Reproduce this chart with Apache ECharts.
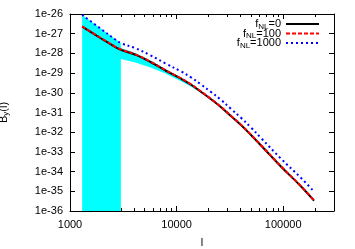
<!DOCTYPE html>
<html><head><meta charset="utf-8">
<script src="https://cdn.jsdelivr.net/npm/echarts@6/dist/echarts.min.js"></script>
<style>html,body{margin:0;padding:0;background:#fff}#c{width:355px;height:249px}</style>
</head><body><div id="c"></div>
<script>
const ell = [1300, 1960, 2660, 3030, 4100, 5690, 7870, 10900, 13600, 16800, 20900, 26000, 32300, 40200, 49900, 62000, 95700, 148000, 195000];
const fnl0 = [2.26e-27, 5.70e-28, 2.11e-28, 1.49e-28, 8.59e-29, 3.66e-29, 1.355e-29, 5.32e-30, 2.64e-30, 1.16e-30, 4.84e-31, 1.905e-31, 6.64e-32, 2.32e-32, 7.21e-33, 2.11e-33, 1.77e-34, 1.71e-35, 3.33e-36];
const fnl100 = [2.35e-27, 5.93e-28, 2.19e-28, 1.55e-28, 8.93e-29, 3.81e-29, 1.41e-29, 5.53e-30, 2.75e-30, 1.21e-30, 5.03e-31, 1.98e-31, 6.91e-32, 2.41e-32, 7.50e-33, 2.19e-33, 1.84e-34, 1.78e-35, 3.46e-36];
const fnl1000 = [9.02e-27, 1.72e-27, 5.07e-28, 3.26e-28, 1.84e-28, 8.0e-29, 3.10e-29, 1.25e-29, 6.18e-30, 2.73e-30, 1.135e-30, 4.47e-31, 1.56e-31, 5.43e-32, 1.73e-32, 5.07e-33, 4.46e-34, 4.61e-35, 9.62e-36];
const bandL = [1300, 3000, 3000, 4100, 5690, 7870, 10900, 13600, 16800, 19000];
const bandLow = [1e-36, 1e-36, 5.2e-29, 3.47e-29, 1.91e-29, 9.55e-30, 3.98e-30, 2.09e-30, 1.0e-30, 7.2e-31];
const bandHigh = [9.02e-27, 3.3e-28, 1.9e-28, 1.06e-28, 4.40e-29, 1.59e-29, 6.11e-30, 2.96e-30, 1.28e-30, 7.6e-31];
const seriesNames = ['fNL=0', 'fNL=100', 'fNL=1000'];
const xMajor = [1000, 10000, 100000];
const xMinor = [2000, 3000, 4000, 5000, 6000, 7000, 8000, 9000, 20000, 30000, 40000, 50000, 60000, 70000, 80000, 90000, 200000, 300000];
const yExponents = [-36, -35, -34, -33, -32, -31, -30, -29, -28, -27, -26];

// ECharts rounds log-axis tick values to 20 decimals, so values are plotted in units of 1e-36
const UNIT_EXP = -36;
const toUnit = v => v * Math.pow(10, -UNIT_EXP);
const yTicks = yExponents.map(e => Math.pow(10, e - UNIT_EXP));

const FONT = 'Liberation Sans';
const chart = echarts.init(document.getElementById('c'), null, {renderer: 'canvas'});
const pair = arr => ell.map((l, i) => [l, toUnit(arr[i])]);
function xAx(pos, ticks, len, showLabel, showLine) {
  return {
    type: 'log', logBase: 10, min: 1000, max: 300000, position: pos, gridIndex: 0,
    axisLine: {show: showLine, onZero: false, lineStyle: {color: '#000', width: 1}},
    axisTick: {show: true, inside: true, length: len, customValues: ticks, lineStyle: {color: '#000'}},
    axisLabel: {show: showLabel, customValues: xMajor, formatter: v => String(Math.round(v)), color: '#000', fontFamily: FONT, fontSize: 11, margin: 8},
    splitLine: {show: false}, minorTick: {show: false}
  };
}
function yAx(pos, showLabel) {
  return {
    type: 'log', logBase: 10, min: yTicks[0], max: yTicks[yTicks.length - 1], position: pos, gridIndex: 0,
    axisLine: {show: true, onZero: false, lineStyle: {color: '#000', width: 1}},
    axisTick: {show: true, inside: true, length: 5, customValues: yTicks, lineStyle: {color: '#000'}},
    axisLabel: {show: showLabel, customValues: yTicks, formatter: v => '1e' + (Math.round(Math.log10(v)) + UNIT_EXP), color: '#000', fontFamily: FONT, fontSize: 11, margin: 7},
    splitLine: {show: false}
  };
}
const xs = [xAx('bottom', xMajor, 5, true, true), xAx('bottom', xMinor, 3, false, false), xAx('top', xMajor, 5, false, true), xAx('top', xMinor, 3, false, false)];
xs[0].name = 'l'; xs[0].nameLocation = 'middle'; xs[0].nameGap = 26; xs[0].nameMoveOverlap = false;
xs[0].nameTextStyle = {fontFamily: FONT, fontSize: 11, color: '#000'};
const ys = [yAx('left', true), yAx('right', false)];
ys[0].name = '{a|B}{s|y}{a|(l)}'; ys[0].nameLocation = 'middle'; ys[0].nameGap = 60; ys[0].nameMoveOverlap = false;
ys[0].nameTextStyle = {fontFamily: FONT, fontSize: 11, color: '#000', rich: {a: {fontFamily: FONT, fontSize: 11, color: '#000'}, s: {fontFamily: FONT, fontSize: 8, color: '#000', padding: [5, 0, 0, 0]}}};

const legendRows = [18.5, 28, 37.5];
const option = {
  animation: false,
  backgroundColor: '#fff',
  grid: {left: 70, right: 21, top: 14, bottom: 38, containLabel: false, outerBoundsMode: 'none'},
  xAxis: xs,
  yAxis: ys,
  legend: seriesNames.map((n, i) => ({
    data: [n], orient: 'vertical', right: 35, top: legendRows[i], align: 'right',
    itemWidth: 33, itemHeight: 9, padding: 0,
    itemStyle: {opacity: 0},
    textStyle: {fontFamily: FONT, fontSize: 11, color: '#000', rich: {f: {fontFamily: FONT, fontSize: 11, color: '#000'}, s: {fontFamily: FONT, fontSize: 8, color: '#000', padding: [5, 0, 0, 0]}}},
    formatter: nm => '{f|f}{s|NL}{f|' + nm.slice(3) + '}'
  })),
  series: [
    {type: 'custom', name: 'band', xAxisIndex: 0, yAxisIndex: 0, z: 1, silent: true,
      data: [[bandL[0], toUnit(bandHigh[0])]],
      renderItem: function (params, api) {
        const pts = [];
        for (let i = 0; i < bandL.length; i++) pts.push(api.coord([bandL[i], toUnit(bandHigh[i])]));
        for (let i = bandL.length - 1; i >= 0; i--) pts.push(api.coord([bandL[i], toUnit(bandLow[i])]));
        return {type: 'polygon', shape: {points: pts}, style: {fill: '#00ffff'}};
      }
    },
    {type: 'line', name: seriesNames[0], data: pair(fnl0), showSymbol: false, symbol: 'none', smooth: 0.4, z: 3,
      lineStyle: {color: '#000', width: 2}, itemStyle: {color: '#000'}},
    {type: 'line', name: seriesNames[1], data: pair(fnl100), showSymbol: false, symbol: 'none', smooth: 0.4, z: 4,
      lineStyle: {color: '#ff0000', width: 2, type: [4, 2]}, itemStyle: {color: '#ff0000'}},
    {type: 'line', name: seriesNames[2], data: pair(fnl1000), showSymbol: false, symbol: 'none', smooth: 0.4, z: 5,
      lineStyle: {color: '#0000ff', width: 2, type: [2, 3]}, itemStyle: {color: '#0000ff'}}
  ]
};
chart.setOption(option);
</script></body></html>
